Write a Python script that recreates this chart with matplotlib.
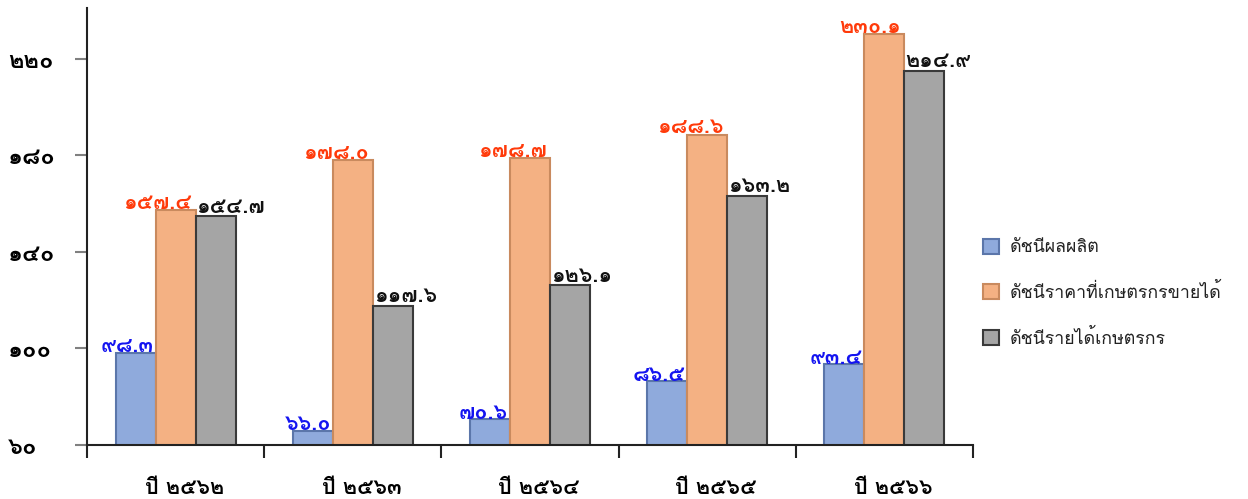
import matplotlib
matplotlib.use("Agg")
import matplotlib.pyplot as plt
import matplotlib.transforms as mtransforms
import numpy as np

plt.rcParams['font.family'] = ['Loma', 'Noto Sans Thai', 'DejaVu Sans']

# data
years = ['ปี ๒๕๖๒', 'ปี ๒๕๖๓', 'ปี ๒๕๖๔', 'ปี ๒๕๖๕', 'ปี ๒๕๖๖']
output_idx = [98.3, 66.0, 70.6, 86.5, 93.4]
price_idx = [157.4, 178.0, 178.7, 188.6, 230.1]
income_idx = [154.7, 117.6, 126.1, 163.2, 214.9]
series_names = ['ดัชนีผลผลิต', 'ดัชนีราคาที่เกษตรกรขายได้', 'ดัชนีรายได้เกษตรกร']
y_ticks = [60, 100, 140, 180, 220]

thai_digits = str.maketrans('0123456789', '๐๑๒๓๔๕๖๗๘๙')


def thai_num(v, fmt='{:.1f}'):
    return fmt.format(v).translate(thai_digits)


fig = plt.figure(figsize=(12.48, 4.99), dpi=100)
ax = fig.add_axes([87 / 1248, 54 / 499, 886 / 1248, 437 / 499])

x = np.arange(len(years))
w = 0.226
fills = ['#8FAADC', '#F4B183', '#A5A5A5']
edges = ['#5B76AA', '#C98A5E', '#3A3A3A']
label_cols = ['#1414F0', '#FF3A0A', '#111111']

bars_out = ax.bar(x - w, output_idx, w, color=fills[0], edgecolor=edges[0], linewidth=1.5, label=series_names[0])
bars_price = ax.bar(x, price_idx, w, color=fills[1], edgecolor=edges[1], linewidth=1.5, label=series_names[1])
bars_inc = ax.bar(x + w, income_idx, w, color=fills[2], edgecolor=edges[2], linewidth=1.5, label=series_names[2])

lab_kw = dict(fontsize=15.5, fontweight='bold', va='center')
for b, v in zip(bars_out, output_idx):
    ax.text(b.get_x() + b.get_width() - 0.01, v + 2.5, thai_num(v), ha='right', color=label_cols[0], **lab_kw)
for b, v in zip(bars_price, price_idx):
    ax.text(b.get_x() + b.get_width() - 0.02, v + 3, thai_num(v), ha='right', color=label_cols[1], **lab_kw)
for b, v in zip(bars_inc, income_idx):
    ax.text(b.get_x() + 0.005, v + 4, thai_num(v), ha='left', color=label_cols[2], **lab_kw)

ax.set_xlim(-0.5, len(years) - 0.5)
ax.set_ylim(60, 241)

ax.set_yticks(y_ticks)
ax.set_yticklabels([thai_num(t, '{:d}') for t in y_ticks], ha='left', fontsize=17, fontweight='bold')
ax.tick_params(axis='y', length=9, width=1.5, color='#808080', pad=48)

ax.set_xticks(np.arange(len(years) + 1) - 0.5)
ax.set_xticklabels([])
ax.tick_params(axis='x', length=9, width=1.5, color='#222222')

trans = mtransforms.blended_transform_factory(ax.transData, fig.transFigure)
for i, yr in enumerate(years):
    fig.text(i + 0.05, 11 / 499, yr, transform=trans, ha='center', va='center',
             fontsize=15.5, fontweight='bold')

for s in ['top', 'right']:
    ax.spines[s].set_visible(False)
for s in ['left', 'bottom']:
    ax.spines[s].set_linewidth(1.5)
    ax.spines[s].set_color('#222222')

fig.legend(loc='center left', bbox_to_anchor=(967 / 1248, (499 - 293) / 499), frameon=False,
           fontsize=12.8, handlelength=0.9, handleheight=0.9, handletextpad=0.6,
           labelspacing=1.5, labelcolor='#222222')

fig.savefig('out.png', dpi=100)
